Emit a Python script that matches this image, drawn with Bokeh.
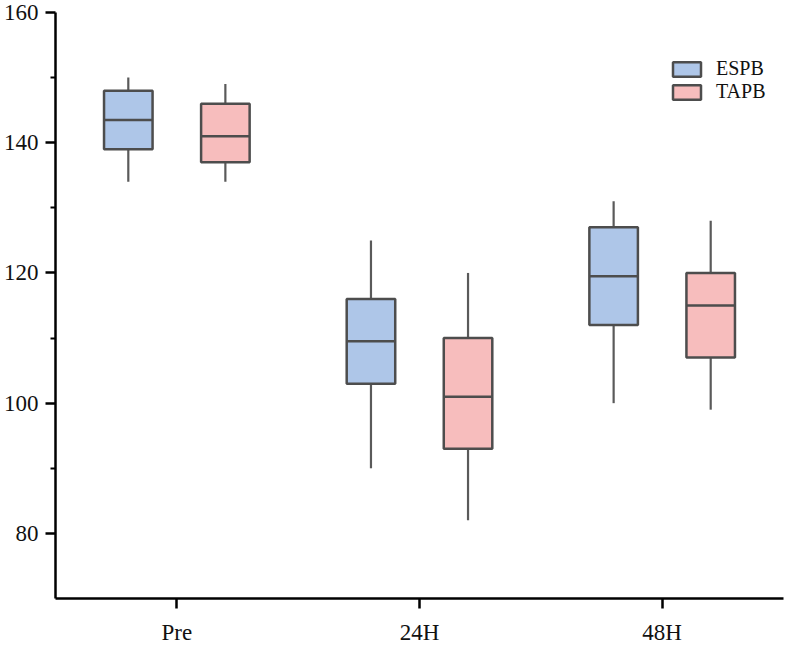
from bokeh.plotting import figure
from bokeh.models import (ColumnDataSource, FactorRange, Range1d, FixedTicker,
                          Legend, LegendItem)
from bokeh.transform import dodge
from bokeh.embed import file_html
from bokeh.resources import INLINE

# ---- data ----
cats = ["Pre", "24H", "48H"]

espb_lower = [134, 90, 100]
espb_q1 = [139, 103, 112]
espb_med = [143.5, 109.5, 119.5]
espb_q3 = [148, 116, 127]
espb_upper = [150, 125, 131]

tapb_lower = [134, 82, 99]
tapb_q1 = [137, 93, 107]
tapb_med = [141, 101, 115]
tapb_q3 = [146, 110, 120]
tapb_upper = [149, 120, 128]

y_ticks = [80, 100, 120, 140, 160]
y_minor = [90, 110, 130, 150]

FONT = "Liberation Serif"
BLUE = "#aec6e8"
PINK = "#f7bdbd"
EDGE = "#4d4d4d"
WHISK = "#5a5a5a"

p = figure(width=786, height=647, output_backend="svg", toolbar_location=None,
           x_range=FactorRange(factors=cats, range_padding=0),
           y_range=Range1d(70, 160),
           min_border_left=55, min_border_right=3, min_border_top=12,
           min_border_bottom=49)
p.outline_line_color = None
p.xgrid.visible = False
p.ygrid.visible = False

xr = p.x_range
series = [
    ("ESPB", -0.2, BLUE, espb_lower, espb_q1, espb_med, espb_q3, espb_upper),
    ("TAPB", 0.2, PINK, tapb_lower, tapb_q1, tapb_med, tapb_q3, tapb_upper),
]

items = []
for name, off, color, lo, q1, med, q3, up in series:
    src = ColumnDataSource(dict(cat=cats, lo=lo, q1=q1, med=med, q3=q3, up=up))
    xc = dodge("cat", off, range=xr)
    p.segment(x0=xc, y0="lo", x1=xc, y1="q1", source=src,
              line_color=WHISK, line_width=2.2)
    p.segment(x0=xc, y0="q3", x1=xc, y1="up", source=src,
              line_color=WHISK, line_width=2.2)
    r = p.vbar(x=xc, width=0.2, bottom="q1", top="q3", source=src,
               fill_color=color, line_color=EDGE, line_width=2.5)
    p.segment(x0=dodge("cat", off - 0.1, range=xr), y0="med",
              x1=dodge("cat", off + 0.1, range=xr), y1="med", source=src,
              line_color=EDGE, line_width=2.5)
    items.append(LegendItem(label=name, renderers=[r]))

legend = Legend(items=items, location=(614, 495), orientation="vertical",
                glyph_width=35, glyph_height=18, spacing=0, label_standoff=12,
                padding=0, margin=0, border_line_color=None,
                background_fill_alpha=0, label_text_font=FONT,
                label_text_font_size="20px", label_height=18,
                label_text_color="#111111")
p.add_layout(legend, "center")

# y axis
ya = p.yaxis[0]
ya.ticker = FixedTicker(ticks=y_ticks, minor_ticks=y_minor)
ya.axis_line_width = 2.5
ya.axis_line_color = "black"
ya.major_tick_line_width = 2.5
ya.major_tick_line_color = "black"
ya.minor_tick_line_width = 2
ya.minor_tick_line_color = "black"
ya.major_tick_out = 10
ya.major_tick_in = 0
ya.minor_tick_out = 5
ya.minor_tick_in = 0
ya.major_label_standoff = 7
ya.major_label_text_font = FONT
ya.major_label_text_font_size = "23px"
ya.major_label_text_color = "#111111"

# x axis
xa = p.xaxis[0]
xa.axis_line_width = 2.5
xa.axis_line_color = "black"
xa.major_tick_line_width = 2.5
xa.major_tick_line_color = "black"
xa.major_tick_out = 10
xa.major_tick_in = 0
xa.minor_tick_line_color = None
xa.major_label_standoff = 11
xa.major_label_text_font = FONT
xa.major_label_text_font_size = "23px"
xa.major_label_text_color = "#111111"

open("out.html", "w").write(file_html(p, INLINE))
